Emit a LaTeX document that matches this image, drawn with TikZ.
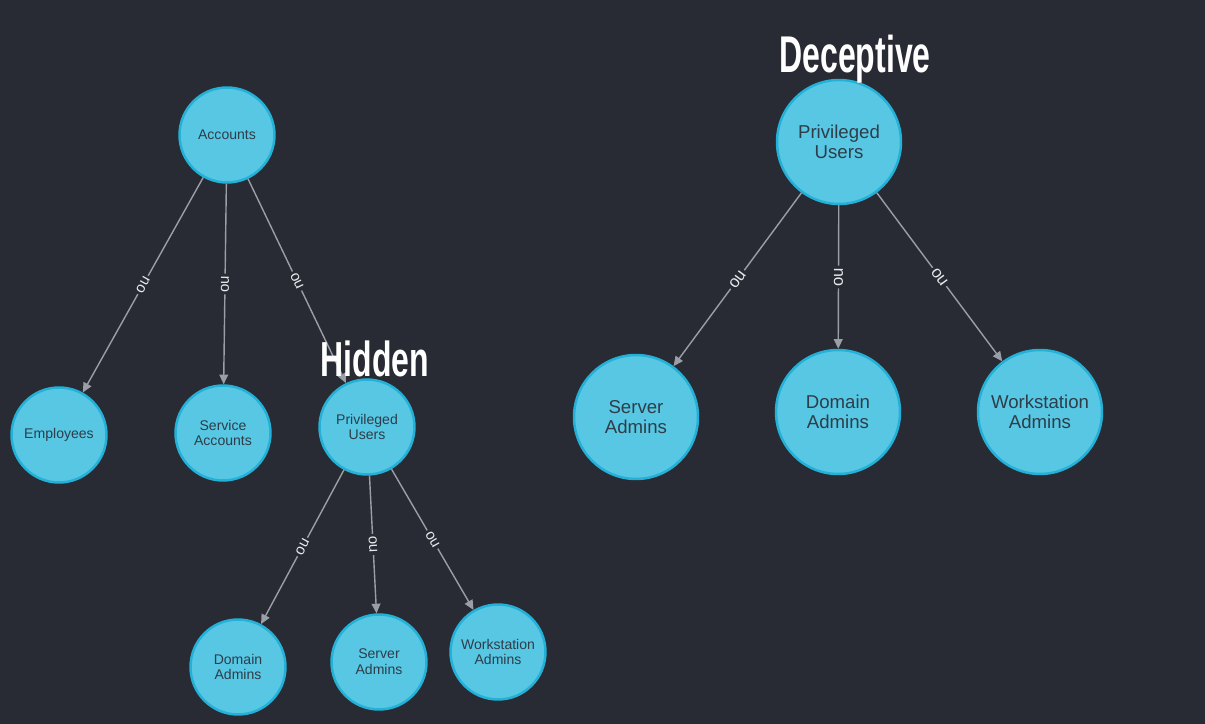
\documentclass[tikz,border=0pt]{standalone}
\usepackage{fontspec}
\setmainfont{Liberation Sans}
\usetikzlibrary{arrows.meta, positioning}

\definecolor{bgcolor}{HTML}{282B33}
\definecolor{nodefill}{HTML}{57C7E4}
\definecolor{nodeborder}{HTML}{23B1D8}
\definecolor{nodetext}{HTML}{2E3D48}
\definecolor{edgecolor}{HTML}{9A9EA6}
\definecolor{labelcolor}{HTML}{E6E8EC}

\begin{document}
\begin{tikzpicture}
    [x=0.02cm,y=0.02cm,
    % Styles
    ou node/.style={circle,draw=nodeborder,fill=nodefill,line width=1.4pt,
        text=nodetext,align=center,inner sep=0pt},
    small node/.style={ou node,minimum size=1.9cm,font=\fontsize{8}{9}\selectfont},
    big node/.style={ou node,minimum size=2.48cm,font=\fontsize{10.6}{11.6}\selectfont},
    ou line/.style={draw=edgecolor,line width=0.8pt,-{Triangle[length=5.5pt,width=5pt]}},
    ou label/.style={sloped,fill=bgcolor,text=labelcolor,inner sep=1.2pt,
        font=\fontsize{8.5}{8.5}\selectfont},
    big label/.style={ou label,font=\fontsize{9.5}{9.5}\selectfont},
    title text/.style={text=white,anchor=base,inner sep=0pt}]

    % Background
    \fill[bgcolor] (0,0) rectangle (1205,724);

    % Hidden tree
    \node[small node] (acc) at (227,589) {Accounts};
    \node[small node] (emp) at (59,289) {Employees};
    \node[small node] (svc) at (223,291) {Service\\Accounts};
    \node[small node] (hpu) at (367,297) {Privileged\\Users};
    \node[small node] (hda) at (238,57) {Domain\\Admins};
    \node[small node] (hsa) at (379,62) {Server\\Admins};
    \node[small node] (hwa) at (498,72) {Workstation\\Admins};

    % Deceptive tree
    \node[big node] (dpu) at (839,582) {Privileged\\Users};
    \node[big node] (dsa) at (636,307) {Server\\Admins};
    \node[big node] (dda) at (838,312) {Domain\\Admins};
    \node[big node] (dwa) at (1040,312) {Workstation\\Admins};

    % Relations
    \foreach \from/\to in {acc/emp, acc/svc, acc/hpu, hpu/hda, hpu/hsa, hpu/hwa}
        \draw[ou line] (\from) -- node[ou label] {ou} (\to);
    \foreach \to in {dsa, dda, dwa}
        \draw[ou line] (dpu) -- node[big label] {ou} (\to);

    % Titles
    \node[title text] (hidden) at (375,347)
        {\scalebox{0.65}[1]{\bfseries\fontsize{28}{30}\selectfont Hidden}};
    \node[title text] (deceptive) at (855,651)
        {\scalebox{0.62}[1]{\bfseries\fontsize{29.4}{31}\selectfont Deceptive}};
\end{tikzpicture}
\end{document}
